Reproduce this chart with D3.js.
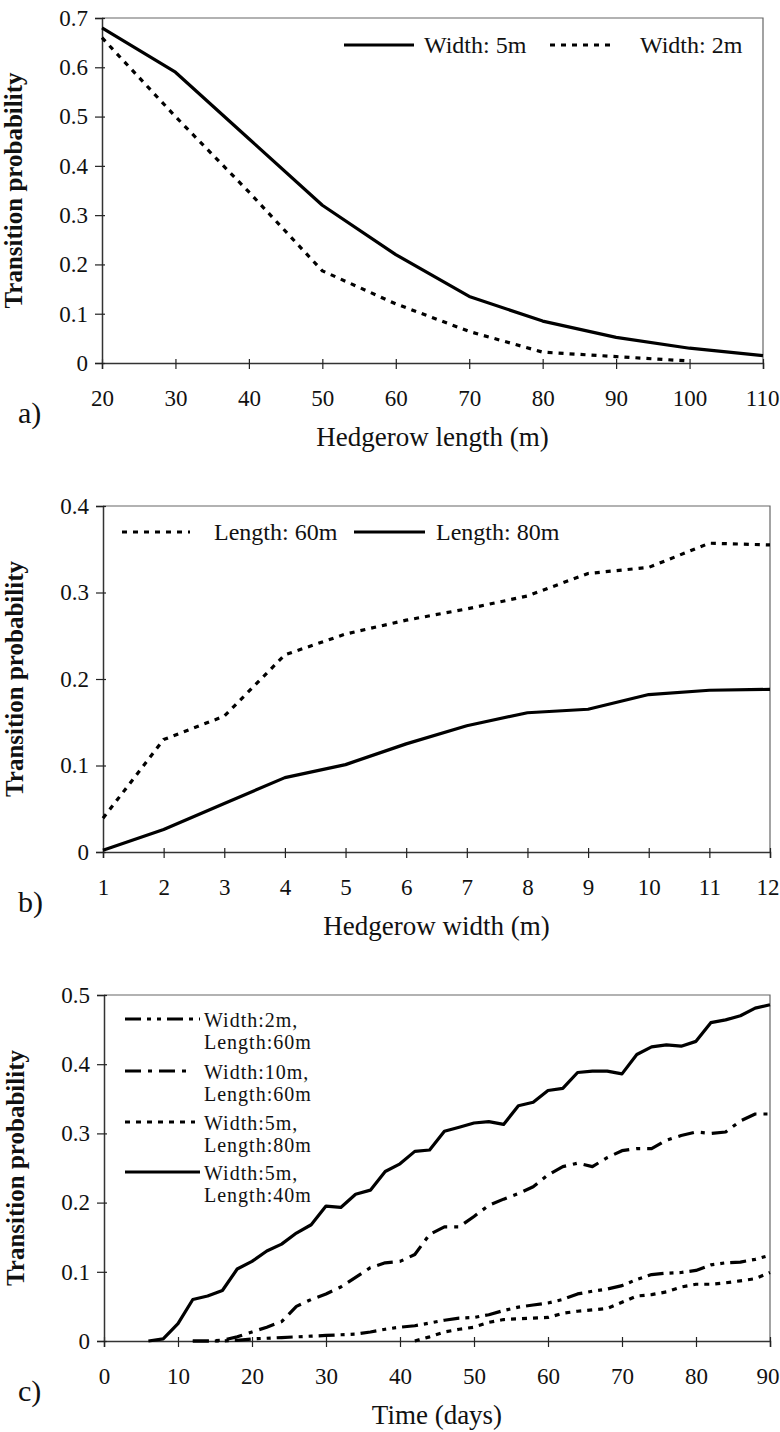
<!DOCTYPE html>
<html>
<head>
<meta charset="utf-8">
<script src="https://cdn.jsdelivr.net/npm/d3@7"></script>
<style>
  body { margin: 0; background: #fff; }
  svg { display: block; font-family: "Liberation Serif", "Times New Roman", serif; }
</style>
</head>
<body>
<svg id="chart" width="780" height="1432"></svg>
<script>
// a) transition probability vs hedgerow length
const lengthsA = [20, 30, 40, 50, 60, 70, 80, 90, 100, 110];
const width5mA = [0.68, 0.59, 0.455, 0.32, 0.22, 0.135, 0.085, 0.052, 0.03, 0.015];
const width2mA = [0.66, 0.50, 0.347, 0.187, 0.12, 0.064, 0.022, 0.013, 0.004, null];
const yTicksA = [0, 0.1, 0.2, 0.3, 0.4, 0.5, 0.6, 0.7];

// b) transition probability vs hedgerow width
const widthsB = [1, 2, 3, 4, 5, 6, 7, 8, 9, 10, 11, 12];
const length60mB = [0.039, 0.13, 0.157, 0.228, 0.252, 0.268, 0.281, 0.296, 0.322, 0.329, 0.357, 0.355];
const length80mB = [0.002, 0.026, 0.056, 0.086, 0.101, 0.125, 0.146, 0.161, 0.165, 0.182, 0.187, 0.188];
const yTicksB = [0, 0.1, 0.2, 0.3, 0.4];

// c) transition probability over time
const daysC = [0, 2, 4, 6, 8, 10, 12, 14, 16, 18, 20, 22, 24, 26, 28, 30, 32, 34, 36, 38, 40, 42, 44,
  46, 48, 50, 52, 54, 56, 58, 60, 62, 64, 66, 68, 70, 72, 74, 76, 78, 80, 82, 84, 86, 88, 90];
const w2l60C = [null, null, null, null, null, null, 0, 0, 0, 0.001, 0.003, 0.004, 0.005, 0.006, 0.007, 0.008,
  0.009, 0.01, 0.013, 0.017, 0.02, 0.022, 0.026, 0.03, 0.033, 0.034, 0.038, 0.044, 0.049, 0.052, 0.055,
  0.06, 0.068, 0.072, 0.075, 0.08, 0.089, 0.096, 0.098, 0.099, 0.102, 0.11, 0.113, 0.114, 0.118, 0.124];
const w10l60C = [null, null, null, null, null, null, 0, 0, 0.001, 0.006, 0.013, 0.02, 0.028, 0.05, 0.06, 0.068,
  0.078, 0.092, 0.106, 0.113, 0.115, 0.125, 0.154, 0.165, 0.165, 0.18, 0.196, 0.205, 0.213, 0.223, 0.24,
  0.252, 0.257, 0.252, 0.265, 0.275, 0.278, 0.278, 0.29, 0.297, 0.302, 0.3, 0.302, 0.318, 0.328, 0.328];
const w5l80C = [null, null, null, null, null, null, null, null, null, null, null, null, null, null, null, null,
  null, null, null, null, null, 0, 0.006, 0.013, 0.017, 0.02, 0.027, 0.031, 0.032, 0.033, 0.034,
  0.04, 0.043, 0.045, 0.047, 0.056, 0.065, 0.067, 0.071, 0.078, 0.082, 0.082, 0.084, 0.087, 0.09, 0.099];
const w5l40C = [null, null, null, 0, 0.003, 0.025, 0.06, 0.065, 0.073, 0.104, 0.115, 0.13, 0.14, 0.156, 0.168, 0.195,
  0.193, 0.212, 0.218, 0.245, 0.256, 0.274, 0.276, 0.303, 0.309, 0.315, 0.317, 0.313, 0.34, 0.345, 0.362,
  0.365, 0.388, 0.39, 0.39, 0.386, 0.414, 0.425, 0.428, 0.426, 0.433, 0.46, 0.464, 0.47, 0.481, 0.486];
const xTicksC = [0, 10, 20, 30, 40, 50, 60, 70, 80, 90];
const yTicksC = [0, 0.1, 0.2, 0.3, 0.4, 0.5];

const DASH = {solid: null, dotted: "5,6", dashDot: "16,7,4,7", dashDotDot: "16,6,4,6,4,6"};
const SERIF = '"Liberation Serif", "Times New Roman", serif';

const svg = d3.select("#chart");
const fmt = d => d === 0 ? "0" : d3.format(".1f")(d);

function drawPanel(p) {
  const x = d3.scaleLinear().domain(p.xDomain).range([p.left, p.right]);
  const y = d3.scaleLinear().domain(p.yDomain).range([p.bottom, p.top]);
  const g = svg.append("g");

  // frame: thin top and right edges
  g.append("path")
    .attr("d", `M${p.left},${p.top}H${p.right}V${p.bottom}`)
    .attr("fill", "none")
    .attr("stroke", "#666")
    .attr("stroke-width", 1.2);

  const xAxis = g.append("g")
    .attr("transform", `translate(0,${p.bottom})`)
    .call(d3.axisBottom(x).tickValues(p.xTicks).tickSize(6).tickPadding(21).tickFormat(d3.format("d")));
  xAxis.selectAll(".tick line").attr("y1", -4);

  const yAxis = g.append("g")
    .attr("transform", `translate(${p.left},0)`)
    .call(d3.axisLeft(y).tickValues(p.yTicks).tickSize(7).tickPadding(7).tickFormat(fmt));
  yAxis.selectAll(".tick line").attr("x1", 3);

  [xAxis, yAxis].forEach(a => {
    // d3 axes default to sans-serif; the original uses a serif face
    a.attr("font-family", SERIF).attr("font-size", 23);
    a.select(".domain").attr("stroke", "#333").attr("stroke-width", 1.5);
    a.selectAll(".tick line").attr("stroke", "#222").attr("stroke-width", 1.2);
    a.selectAll("text").attr("fill", "#111");
  });

  // keep the last x label inside the page
  xAxis.selectAll(".tick text").each(function () {
    const b = this.getBBox();
    const abs = x(d3.select(this.parentNode).datum()) + b.x + b.width;
    if (abs > 779) d3.select(this).attr("dx", 779 - abs);
  });

  const line = d3.line()
    .defined(d => d[1] != null)
    .x(d => x(d[0]))
    .y(d => y(d[1]));

  p.series.forEach(s => {
    g.append("path")
      .datum(p.xs.map((v, i) => [v, s.values[i]]))
      .attr("d", line)
      .attr("fill", "none")
      .attr("stroke", "#000")
      .attr("stroke-width", 3.2)
      .attr("stroke-linejoin", "round")
      .attr("stroke-dasharray", DASH[s.style]);
  });

  // legend
  p.legend.forEach(l => {
    const s = p.series[l.index];
    g.append("line")
      .attr("x1", l.x1).attr("x2", l.x2)
      .attr("y1", l.y).attr("y2", l.y)
      .attr("stroke", "#000")
      .attr("stroke-width", 3.2)
      .attr("stroke-dasharray", DASH[s.style]);
    const t = g.append("text")
      .attr("x", l.tx)
      .attr("y", l.y + 8)
      .attr("font-size", l.size || 24)
      .attr("letter-spacing", l.spacing || 0)
      .attr("fill", "#111");
    s.name.forEach((n, i) => t.append("tspan").attr("x", l.tx).attr("dy", i ? 22 : 0).text(n));
  });

  // y title
  svg.append("text")
    .attr("transform", `translate(${p.left - 80},${(p.top + p.bottom) / 2}) rotate(-90)`)
    .attr("text-anchor", "middle")
    .attr("font-size", 25)
    .attr("font-weight", "bold")
    .attr("fill", "#111")
    .text("Transition probability");

  svg.append("text")
    .attr("x", 18).attr("y", p.bottom + 60)
    .attr("font-size", 30)
    .attr("fill", "#111")
    .text(p.letter);

  svg.append("text")
    .attr("x", (p.left + p.right) / 2).attr("y", p.bottom + 83)
    .attr("text-anchor", "middle")
    .attr("font-size", 27)
    .attr("fill", "#111")
    .text(p.xTitle);
}

drawPanel({
  left: 102, right: 763, top: 18, bottom: 363,
  xDomain: [20, 110], yDomain: [0, 0.7],
  xTicks: lengthsA, yTicks: yTicksA, xs: lengthsA,
  series: [
    {name: ["Width: 5m"], values: width5mA, style: "solid"},
    {name: ["Width: 2m"], values: width2mA, style: "dotted"}
  ],
  legend: [
    {index: 0, x1: 344, x2: 414, y: 45, tx: 424},
    {index: 1, x1: 550, x2: 615, y: 45, tx: 640}
  ],
  letter: "a)", xTitle: "Hedgerow length (m)"
});

drawPanel({
  left: 103, right: 770, top: 506, bottom: 852,
  xDomain: [1, 12], yDomain: [0, 0.4],
  xTicks: widthsB, yTicks: yTicksB, xs: widthsB,
  series: [
    {name: ["Length: 60m"], values: length60mB, style: "dotted"},
    {name: ["Length: 80m"], values: length80mB, style: "solid"}
  ],
  legend: [
    {index: 0, x1: 122, x2: 190, y: 532, tx: 214},
    {index: 1, x1: 354, x2: 425, y: 532, tx: 436}
  ],
  letter: "b)", xTitle: "Hedgerow width (m)"
});

drawPanel({
  left: 104, right: 770, top: 995, bottom: 1341,
  xDomain: [0, 90], yDomain: [0, 0.5],
  xTicks: xTicksC, yTicks: yTicksC, xs: daysC,
  series: [
    {name: ["Width:2m,", "Length:60m"], values: w2l60C, style: "dashDotDot"},
    {name: ["Width:10m,", "Length:60m"], values: w10l60C, style: "dashDot"},
    {name: ["Width:5m,", "Length:80m"], values: w5l80C, style: "dotted"},
    {name: ["Width:5m,", "Length:40m"], values: w5l40C, style: "solid"}
  ],
  legend: [
    {index: 0, x1: 125, x2: 200, y: 1019, tx: 204, size: 20, spacing: 1},
    {index: 1, x1: 125, x2: 190, y: 1071, tx: 204, size: 20, spacing: 1},
    {index: 2, x1: 125, x2: 195, y: 1122, tx: 204, size: 20, spacing: 1},
    {index: 3, x1: 125, x2: 200, y: 1172, tx: 204, size: 20, spacing: 1}
  ],
  letter: "c)", xTitle: "Time (days)"
});
</script>
</body>
</html>
